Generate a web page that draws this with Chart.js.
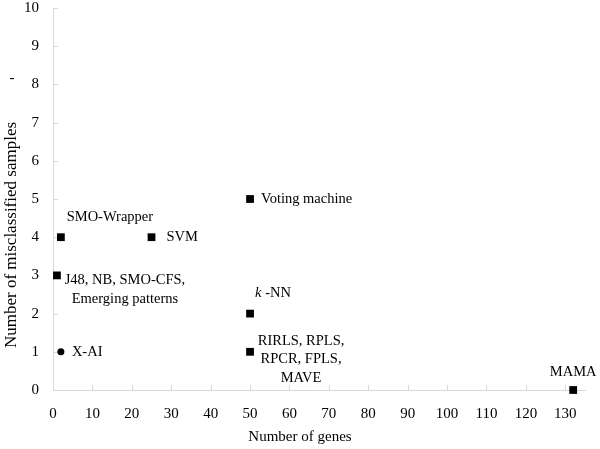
<!DOCTYPE html>
<html>
<head>
<meta charset="utf-8">
<script src="https://cdn.jsdelivr.net/npm/chart.js@4.4.1/dist/chart.umd.min.js"></script>
<style>
  html, body { margin: 0; padding: 0; background: #fff; }
  #wrap { width: 600px; height: 449px; }
</style>
</head>
<body>
<div id="wrap"><canvas id="chart"></canvas></div>
<script>
// Methods, gene counts and misclassified samples
const methods = ["X-AI", "J48, NB, SMO-CFS, Emerging patterns", "SMO-Wrapper", "SVM",
  "Voting machine", "k-NN", "RIRLS, RPLS, RPCR, FPLS, MAVE", "MAMA"];
const genes = [2, 1, 2, 25, 50, 50, 50, 132];
const misclassified = [1, 3, 4, 4, 5, 2, 1, 0];
const xTicks = [0, 10, 20, 30, 40, 50, 60, 70, 80, 90, 100, 110, 120, 130];
const yTicks = [0, 1, 2, 3, 4, 5, 6, 7, 8, 9, 10];

// label placement (pixel offsets from each point) and line breaks
const labelLines = [
  ["X-AI"],
  ["J48, NB, SMO-CFS,", "Emerging patterns"],
  ["SMO-Wrapper"],
  ["SVM"],
  ["Voting machine"],
  ["k -NN"],
  ["RIRLS, RPLS,", "RPCR, FPLS,", "MAVE"],
  ["MAMA"]
];
const labelPos = [
  { dx: 11, dy: 0, align: "left" },
  { dx: 68, dy: 5, align: "center" },
  { dx: 49, dy: -20, align: "center" },
  { dx: 15, dy: 0, align: "left" },
  { dx: 11, dy: 0, align: "left" },
  { dx: 23, dy: -20, align: "center" },
  { dx: 51, dy: -11, align: "center" },
  { dx: 0, dy: -18, align: "center" }
];

const FONT = "'Liberation Serif', 'Times New Roman', serif";
const AXIS_COLOR = "#d9d9d9";
const LABEL_SIZE = 14.5;

const decorations = {
  id: "decorations",
  beforeDatasetsDraw(chart) {
    // inside tick marks, under the markers
    const ctx = chart.ctx;
    const xs = chart.scales.x;
    const ys = chart.scales.y;
    const area = chart.chartArea;
    ctx.save();
    ctx.strokeStyle = AXIS_COLOR;
    ctx.lineWidth = 1;
    ctx.beginPath();
    xTicks.forEach((v) => {
      const px = Math.round(xs.getPixelForValue(v)) + 0.5;
      ctx.moveTo(px, area.bottom);
      ctx.lineTo(px, area.bottom - 5);
    });
    yTicks.forEach((v) => {
      const py = Math.round(ys.getPixelForValue(v)) + 0.5;
      ctx.moveTo(area.left, py);
      ctx.lineTo(area.left + 5, py);
    });
    ctx.stroke();
    ctx.restore();
  },
  afterDatasetsDraw(chart) {
    const ctx = chart.ctx;
    ctx.save();

    // point labels
    ctx.fillStyle = "#000";
    ctx.textBaseline = "middle";
    const meta = chart.getDatasetMeta(0);
    meta.data.forEach((pt, i) => {
      const lines = labelLines[i];
      const pos = labelPos[i];
      ctx.textAlign = pos.align;
      lines.forEach((line, j) => {
        const lx = pt.x + pos.dx;
        const ly = pt.y + pos.dy + j * 18.5;
        if (line.startsWith("k ")) {
          ctx.font = "italic " + LABEL_SIZE + "px " + FONT;
          const kW = ctx.measureText("k ").width;
          ctx.font = LABEL_SIZE + "px " + FONT;
          const restW = ctx.measureText("-NN").width;
          const start = lx - (kW + restW) / 2;
          ctx.textAlign = "left";
          ctx.font = "italic " + LABEL_SIZE + "px " + FONT;
          ctx.fillText("k ", start, ly);
          ctx.font = LABEL_SIZE + "px " + FONT;
          ctx.fillText("-NN", start + kW, ly);
          ctx.textAlign = pos.align;
        } else {
          ctx.font = LABEL_SIZE + "px " + FONT;
          ctx.fillText(line, lx, ly);
        }
      });
    });

    // axis titles
    ctx.font = "15px " + FONT;
    ctx.textAlign = "center";
    ctx.fillText("Number of genes", 300, 437);
    ctx.save();
    ctx.translate(12, 235);
    ctx.rotate(-Math.PI / 2);
    ctx.font = "17px " + FONT;
    ctx.fillText("Number of misclassified samples", 0, 0);
    ctx.restore();
    ctx.fillText("-", 12, 78);

    ctx.restore();
  }
};

new Chart(document.getElementById("chart"), {
  type: "scatter",
  data: {
    datasets: [{
      data: genes.map((g, i) => ({ x: g, y: misclassified[i] })),
      backgroundColor: "#000",
      borderColor: "#000",
      borderWidth: 0,
      clip: false,
      pointStyle: methods.map((m) => (m === "X-AI" ? "circle" : "rect")),
      pointRadius: methods.map((m) => (m === "X-AI" ? 3.5 : 5.5)),
      pointHoverRadius: methods.map((m) => (m === "X-AI" ? 3.5 : 5.5))
    }]
  },
  options: {
    responsive: true,
    maintainAspectRatio: false,
    animation: false,
    events: [],
    layout: { autoPadding: false, padding: { top: 8, right: 15, left: 0, bottom: 0 } },
    plugins: { legend: { display: false }, tooltip: { enabled: false } },
    scales: {
      x: {
        type: "linear",
        min: 0,
        max: 135,
        afterBuildTicks: (scale) => { scale.ticks = xTicks.map((v) => ({ value: v })); },
        afterFit: (scale) => { scale.height = 59; scale.paddingLeft = 0; scale.paddingRight = 0; },
        grid: { display: false, drawTicks: false },
        border: { display: true, color: AXIS_COLOR, width: 1 },
        ticks: { color: "#000", font: { family: FONT, size: 15 }, padding: 15, maxRotation: 0, autoSkip: false }
      },
      y: {
        type: "linear",
        min: 0,
        max: 10,
        afterBuildTicks: (scale) => { scale.ticks = yTicks.map((v) => ({ value: v })); },
        afterFit: (scale) => { scale.width = 53; scale.paddingTop = 0; scale.paddingBottom = 0; },
        grid: { display: false, drawTicks: false },
        border: { display: true, color: AXIS_COLOR, width: 1 },
        ticks: { color: "#000", font: { family: FONT, size: 15 }, padding: 14, autoSkip: false }
      }
    }
  },
  plugins: [decorations]
});
</script>
</body>
</html>
